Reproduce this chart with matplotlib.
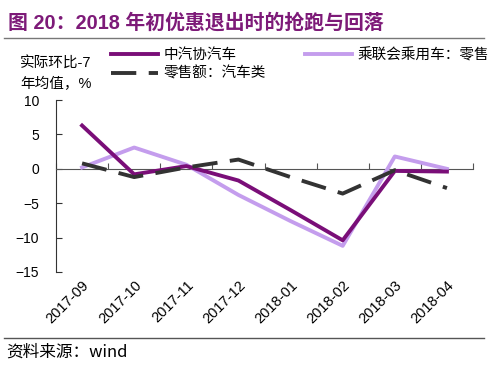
import matplotlib
matplotlib.use('Agg')
import matplotlib.pyplot as plt
from matplotlib.lines import Line2D

plt.rcParams['font.family'] = ['Liberation Sans', 'Noto Sans CJK SC', 'DejaVu Sans']

months = ['2017-09', '2017-10', '2017-11', '2017-12', '2018-01', '2018-02', '2018-03', '2018-04']
caam = [6.3, -0.8, 0.4, -1.7, -6.0, -10.4, -0.3, -0.4]          # 中汽协汽车
cpca = [0.2, 3.1, 0.6, -3.8, -7.6, -11.2, 1.8, 0.0]             # 乘联会乘用车：零售
retail = [0.8, -1.2, 0.2, 1.35, -1.2, -3.6, -0.2, -2.8]         # 零售额：汽车类

dark = '#7a0e78'
light = '#c49ded'
grey = '#333333'
title_col = '#7d1a78'
cjk = ['Noto Sans CJK SC', 'Liberation Sans']

fig = plt.figure(figsize=(5, 3.68), dpi=100)
ax = fig.add_axes([0.112, 0.261, 0.834, 0.467])

x = range(len(months))
ax.plot(x, caam, color=dark, lw=2.8, label='中汽协汽车', zorder=4)
ax.plot(x, cpca, color=light, lw=2.8, label='乘联会乘用车：零售', zorder=3)
ax.plot(x, retail, color=grey, lw=2.8, dashes=(6.5, 3.2), label='零售额：汽车类', zorder=5)

ax.set_xlim(-0.5, 7.5)
ax.set_ylim(-15, 10)
ax.set_yticks([10, 5, 0, -5, -10, -15])
ax.tick_params(axis='y', direction='in', length=4, labelsize=10, color='#333333', pad=12)

# x axis drawn on the zero line, with ticks between categories
ax.spines['top'].set_visible(False)
ax.spines['right'].set_visible(False)
ax.spines['left'].set_color('#333333')
ax.spines['bottom'].set_position(('data', 0))
ax.spines['bottom'].set_color('#555555')
ax.set_xticks([i - 0.5 for i in range(len(months) + 1)])
ax.set_xticklabels([])
ax.tick_params(axis='x', direction='in', length=4, color='#555555')

sec = ax.secondary_xaxis(location=-0.02)
sec.set_xticks(list(x))
sec.set_xticklabels(months, rotation=45, ha='right', rotation_mode='anchor', fontsize=10.5)
sec.tick_params(length=0, pad=2)
sec.spines['bottom'].set_visible(False)

# legend
h = [Line2D([], [], color=dark, lw=2.8),
     Line2D([], [], color=grey, lw=2.8, dashes=(6.5, 3.2)),
     Line2D([], [], color=light, lw=2.8)]
labs = ['中汽协汽车', '零售额：汽车类', '乘联会乘用车：零售']
fig.legend(h, labs, ncol=2, loc='upper left', bbox_to_anchor=(0.222, 0.87),
           frameon=False, prop={'family': cjk, 'size': 10.5}, handlelength=3.2,
           handletextpad=0.4, columnspacing=2.7, labelspacing=0.3, borderpad=0,
           borderaxespad=0)

fig.text(0.04, 0.828, '实际环比-7', fontsize=10.5, va='center')
fig.text(0.04, 0.772, '年均值，%', fontsize=10.5, va='center')

fig.text(0.016, 0.937, '图 20：2018 年初优惠退出时的抢跑与回落', fontsize=14.3,
         fontweight='bold', color=title_col, va='center')
fig.add_artist(Line2D([0.008, 0.968], [0.897, 0.897], color='#777777', lw=1))
fig.add_artist(Line2D([0.008, 0.968], [0.082, 0.082], color='#555555', lw=1))
fig.text(0.012, 0.043, '资料来源：wind', fontsize=12, va='center', family=cjk)

fig.savefig('out.png', dpi=100)
